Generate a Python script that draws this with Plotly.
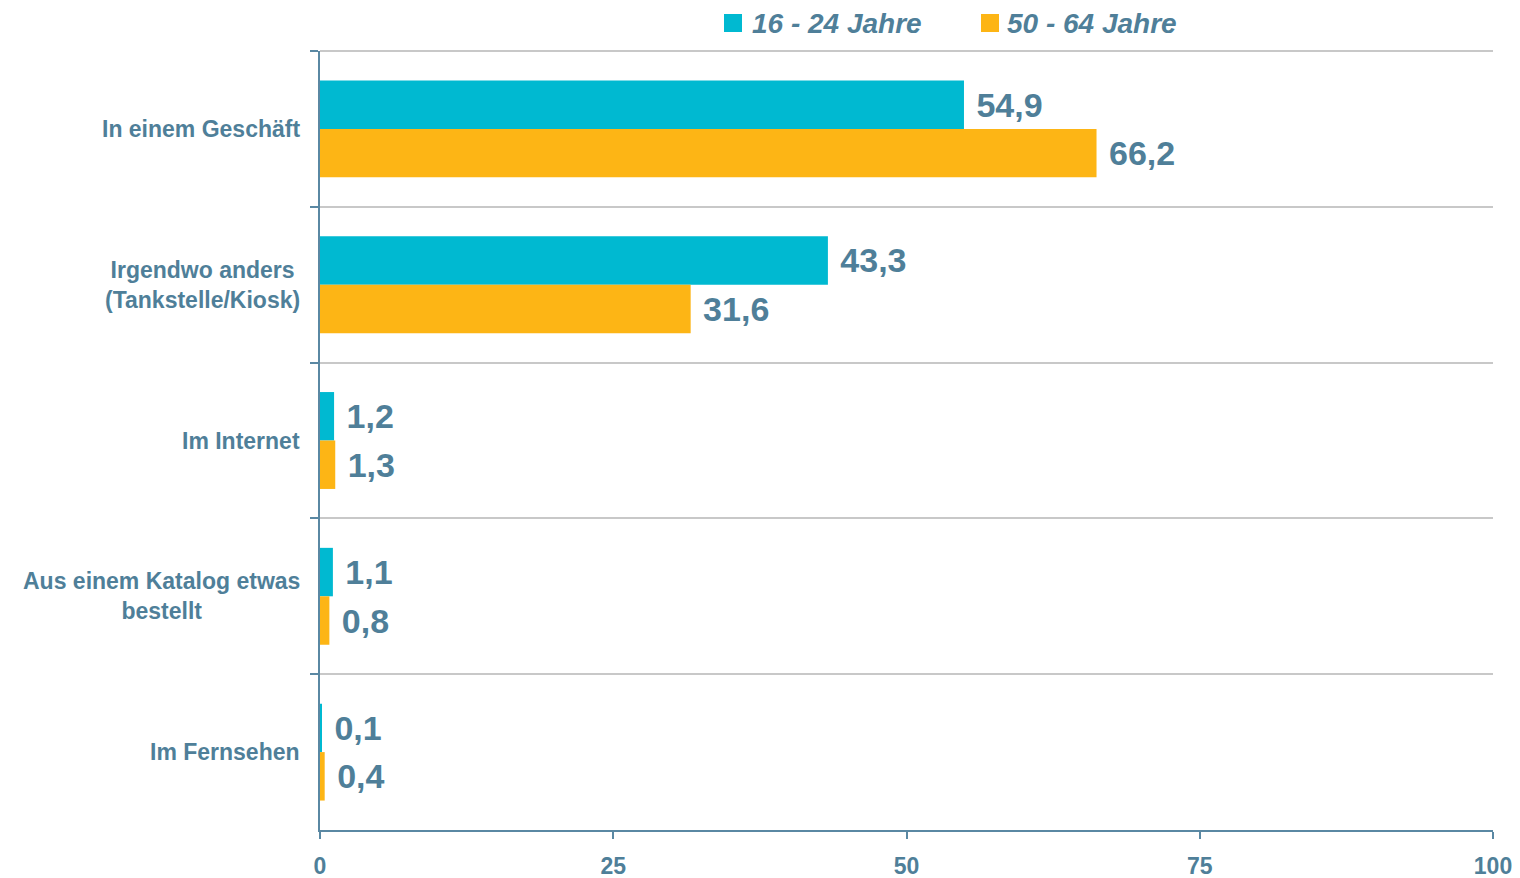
import plotly.graph_objects as go

categories = ["In einem Geschäft", "Irgendwo anders<br>(Tankstelle/Kiosk)", "Im Internet",
              "Aus einem Katalog etwas<br>bestellt", "Im Fernsehen"]
series_names = ["16 - 24 Jahre", "50 - 64 Jahre"]
values_young = [54.9, 43.3, 1.2, 1.1, 0.1]
values_old = [66.2, 31.6, 1.3, 0.8, 0.4]
x_ticks = [0, 25, 50, 75, 100]

COLORS = ["#00B9D1", "#FDB515"]
TEXT = "#4F7F99"
AXIS = "#5A88A3"
GRID = "#C8C8C8"
FONT = "Liberation Sans, Arial, sans-serif"

W, H = 1520, 878
ML, MR, MT, MB = 320, 27, 51, 48
PW, PH = W - ML - MR, H - MT - MB


def px_x(x):
    return (x - ML) / PW


def px_y(y):
    return 1 - (y - MT) / PH


def fmt(v):
    return "\u00a0" + f"{v:.1f}".replace(".", ",")


fig = go.Figure()
for name, vals, color in zip(series_names, [values_young, values_old], COLORS):
    fig.add_trace(go.Bar(
        y=categories, x=vals, name=name, orientation="h",
        marker=dict(color=color, line=dict(width=0)),
        text=[fmt(v) for v in vals], textposition="outside", constraintext="none",
        textfont=dict(family=FONT, size=34, color=TEXT, weight="bold"),
        cliponaxis=False, showlegend=False, hoverinfo="skip",
    ))

for c in categories:
    fig.add_annotation(x=0, xref="paper", y=c, yref="y", text=c, showarrow=False,
                       xanchor="right", yanchor="middle", align="center", xshift=-18,
                       font=dict(family=FONT, size=23, color=TEXT, weight="bold"))

# top boundary gridline
fig.add_shape(type="line", xref="paper", yref="paper", x0=0, x1=1, y0=1, y1=1,
              line=dict(color=GRID, width=1.8), layer="below")

# legend (manual, to match large square swatches)
legend_items = [(724, 752), (981, 1007)]
for (sx, tx), name, color in zip(legend_items, series_names, COLORS):
    fig.add_shape(type="rect", xref="paper", yref="paper",
                  x0=px_x(sx), x1=px_x(sx + 18), y0=px_y(32), y1=px_y(14),
                  fillcolor=color, line=dict(width=0))
    fig.add_annotation(x=px_x(tx), xref="paper", y=px_y(23), yref="paper", text=name,
                       showarrow=False, xanchor="left", yanchor="middle", xshift=-2,
                       font=dict(family=FONT, size=28, color=TEXT, weight="bold",
                                 style="italic"))

fig.update_layout(
    width=W, height=H,
    margin=dict(l=ML, r=MR, t=MT, b=MB, autoexpand=False),
    paper_bgcolor="white", plot_bgcolor="white",
    barmode="group", bargap=0.378, bargroupgap=0,
    showlegend=False,
    xaxis=dict(range=[0, 100], tickvals=x_ticks, ticks="outside", ticklen=7, tickcolor=AXIS,
               tickwidth=1.5,
               showline=True, linecolor=AXIS, linewidth=1.5, showgrid=False, zeroline=False,
               tickfont=dict(family=FONT, size=23, color=TEXT, weight="bold"),
               ticklabelstandoff=8),
    yaxis=dict(type="category", autorange="reversed", tickson="boundaries", ticks="outside",
               ticklen=8, tickcolor=AXIS, tickwidth=1.5, showline=True, linecolor=AXIS,
               linewidth=1.5, showgrid=True, gridcolor=GRID, gridwidth=1.8,
               showticklabels=False),
    font=dict(family=FONT, color=TEXT),
)

fig.write_html("out.html", config={"displayModeBar": False},
               post_script="document.body.style.margin='0';")
